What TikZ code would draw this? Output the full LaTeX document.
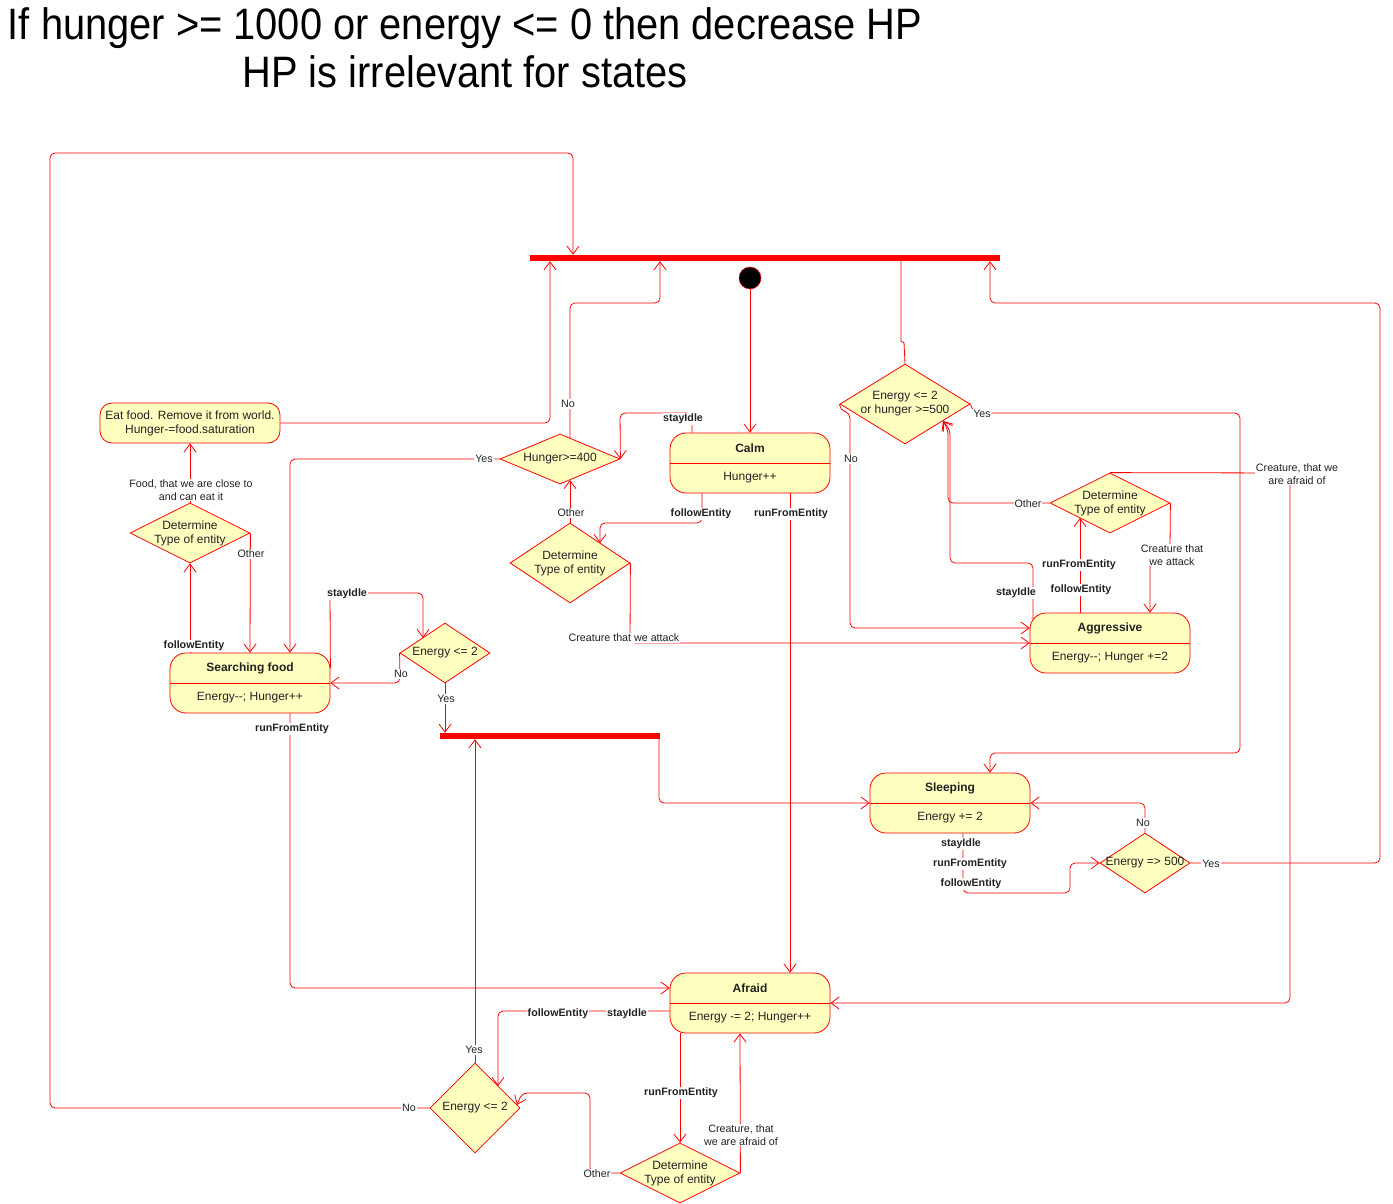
\documentclass[tikz,border=0pt]{standalone}
\usepackage{fontspec}
\setmainfont{Liberation Sans}
\usepackage{graphicx}
\usetikzlibrary{arrows.meta,shapes.geometric}
\definecolor{yel}{HTML}{FFFFC0}
\definecolor{tc}{HTML}{222222}
\newcommand\mystate[5]{%
  \node[statebox] (#1) at (#2,#3) {};
  \draw[red, line width=0.8pt] (#1.west) -- (#1.east);
  \node[sttitle] (#1-t) at (#2,#3-15) {#4};
  \node[sttext] (#1-b) at (#2,#3+15) {#5};
}
\newcommand\mydia[6]{%
  \node[dia, minimum width=#4, minimum height=#5] (#1) at (#2,#3) {};
  \node[sttext] (#1-t) at (#1) {#6};
}
\begin{document}
\begin{tikzpicture}[x=1pt,y=-1pt,
  ln/.style={draw=red, line width=0.8pt, rounded corners=5pt},
  arr/.style={ln, -{Straight Barb[length=8pt,width=12pt]}},
  statebox/.style={draw=red, fill=yel, line width=0.8pt, rounded corners=16pt, minimum width=160pt, minimum height=60pt, inner sep=0pt},
  dia/.style={diamond, draw=red, fill=yel, line width=0.8pt, inner sep=0pt},
  sttitle/.style={font=\bfseries\fontsize{12}{14}\selectfont, text=tc, inner sep=0pt},
  sttext/.style={font=\fontsize{12}{14}\selectfont, text=tc, inner sep=0pt, align=center},
  lbl/.style={font=\fontsize{10.7}{13}\selectfont, text=tc, fill=white, inner sep=0.8pt, align=center},
  blbl/.style={lbl, font=\bfseries\fontsize{10.7}{13}\selectfont},
  barnode/.style={fill=red, inner sep=0pt, minimum height=6pt},
]
\useasboundingbox (0,0) rectangle (1393,1204);
\fill[white] (0,0) rectangle (1393,1204);

% title
\node[anchor=base, inner sep=0pt, text=black] (t1) at (465,40) {\scalebox{0.905}[1]{\fontsize{44}{48}\selectfont If hunger >= 1000 or energy <= 0 then decrease HP}};
\node[anchor=base, inner sep=0pt, text=black] (t2) at (465,88) {\scalebox{0.905}[1]{\fontsize{44}{48}\selectfont HP is irrelevant for states}};

% bars and initial node
\node[barnode, minimum width=470pt] (bar1) at (765,258) {};
\node[barnode, minimum width=220pt] (bar2) at (550,736) {};
\node[circle, fill=black, draw=red, line width=0.5pt, minimum size=22pt, inner sep=0pt] (init) at (750,278) {};

% states
\mystate{calm}{750}{463}{Calm}{Hunger++}
\mystate{search}{250}{683}{Searching food}{Energy-{}-; Hunger++}
\mystate{aggr}{1110}{643}{Aggressive}{Energy-{}-; Hunger +=2}
\mystate{sleep}{950}{803}{Sleeping}{Energy += 2}
\mystate{afraid}{750}{1003}{Afraid}{Energy -= 2; Hunger++}
\node[draw=red, fill=yel, line width=0.8pt, rounded corners=12pt, minimum width=180pt, minimum height=40pt, inner sep=0pt, font=\fontsize{12}{14}\selectfont, text=tc, align=center] (eat) at (190,423) {Eat food. Remove it from world.\\Hunger-=food.saturation};

% decisions
\mydia{dL}{190}{533}{120}{60}{Determine\\Type of entity}
\mydia{dHun}{560}{459}{120}{50}{Hunger>=400}
\mydia{dM}{570}{563}{120}{80}{Determine\\Type of entity}
\mydia{dEH}{905}{404}{130}{80}{Energy <= 2\\or hunger >=500}
\mydia{dR}{1110}{503}{120}{60}{Determine\\Type of entity}
\mydia{dE1}{445}{653}{90}{60}{Energy <= 2}
\mydia{dE5}{1145}{863}{90}{60}{Energy => 500}
\mydia{dE2}{475}{1108}{90}{90}{Energy <= 2}
\mydia{dB}{680}{1173}{120}{60}{Determine\\Type of entity}

% connectors
\draw[arr] (init) -- (calm.north);
\draw[arr] ([xshift=-58pt]calm.north) -- (692,413) -- (620,413) -- (dHun.east);
\draw[arr] ([xshift=-48pt]calm.south) -- (702,523) -- (600,523) -- (600,543);
\draw[arr] ([xshift=40pt]calm.south) -- ([xshift=40pt]afraid.north);
\draw[arr] (570,438) -- (570,303) -- (660,303) -- ([xshift=-105pt]bar1.south);
\draw[arr] (dHun.west) -- (290,459) -- ([xshift=40pt]search.north);
\draw[arr] (dM.north) -- (570,480);
\draw[arr] (dM.east) -- (630,643) -- (aggr.west);
\draw[arr] (eat.east) -- (550,423) -- ([xshift=-215pt]bar1.south);
\draw[arr] (dE2.west) -- (50,1108) -- (50,153) -- (573,153) -- ([xshift=-192pt]bar1.north);
\draw[arr] (dL.north) -- (eat.south);
\draw[arr] (dL.east) -- (search.north);
\draw[arr] ([xshift=-60pt]search.north) -- (dL.south);
\draw[arr] ([yshift=15pt]search.east) -- (330,593) -- (423,593) -- (423,638);
\draw[arr] (dE1.west) -- (400,683) -- (search.east);
\draw[arr] (dE1.south) -- ([xshift=-105pt]bar2.north);
\draw[arr] ([xshift=40pt]search.south) -- (290,988) -- ([yshift=15pt]afraid.west);
\draw[arr] ([xshift=109pt]bar2.south) -- (659,803) -- (sleep.west);
\draw[arr] (dE2.north) -- ([xshift=-75pt]bar2.south);
\draw[arr] ([yshift=-8pt]afraid.west) -- (498,1011) -- (498,1086);
\draw[arr] ([xshift=-70pt]afraid.south) -- (dB.north);
\draw[arr] (dB.east) -- ([xshift=-10pt]afraid.south);
\draw[arr] (dB.west) -- (590,1173) -- (590,1093) -- (522,1093) -- (517,1105);
\draw[arr] (dR.north) -- (1290,473) -- (1290,1003) -- (afraid.east);
\draw[arr] (dR.east) -- (1170,548) -- (1150,562) -- ([xshift=40pt]aggr.north);
\draw[arr] (dR.west) -- (948,503) -- (948,430) -- (943,421);
\draw[arr] ([xshift=-30pt]aggr.north) -- (1080,518);
\draw[arr] (1033,619) -- (1033,563) -- (950,563) -- (950,430) -- (943,421);
\draw[arr] (dEH.west) -- (840,410) -- (850,413) -- (850,628) -- ([yshift=15pt]aggr.west);
\draw[arr] (dEH.east) -- (974,413) -- (1240,413) -- (1240,753) -- (990,753) -- ([xshift=40pt]sleep.north);
\draw[draw=red, line width=0.8pt, rounded corners=1pt] ([xshift=136pt]bar1.south) -- (901,342) -- (904,342) -- (dEH.north);
\draw[arr] ([xshift=13pt]sleep.south) -- (963,893) -- (1070,893) -- (1070,863) -- (dE5.west);
\draw[arr] (dE5.north) -- (1145,803) -- (sleep.east);
\draw[arr] (dE5.east) -- (1380,863) -- (1380,303) -- (990,303) -- ([xshift=225pt]bar1.south);

% labels
\node[blbl] at (683,419) {stayIdle};
\node[blbl] at (701,514) {followEntity};
\node[blbl] at (791,514) {runFromEntity};
\node[lbl] at (568,404) {No};
\node[lbl] at (484,459) {Yes};
\node[lbl] at (571,513) {Other};
\node[lbl, inner ysep=1.5pt] at (624,638) {Creature that we attack};
\node[lbl] at (409,1108) {No};
\node[lbl] at (191,490) {Food, that we are close to\\and can eat it};
\node[lbl] at (251,554) {Other};
\node[blbl] at (194,646) {followEntity};
\node[blbl] at (347,594) {stayIdle};
\node[lbl] at (401,674) {No};
\node[lbl] at (446,699) {Yes};
\node[blbl] at (292,729) {runFromEntity};
\node[lbl] at (474,1050) {Yes};
\node[blbl] at (558,1014) {followEntity};
\node[blbl] at (627,1014) {stayIdle};
\node[blbl] at (681,1093) {runFromEntity};
\node[lbl] at (741,1135) {Creature, that\\we are afraid of};
\node[lbl] at (597,1174) {Other};
\node[lbl] at (1297,474) {Creature, that we\\are afraid of};
\node[lbl] at (1172,555) {Creature that\\we attack};
\node[lbl] at (1028,504) {Other};
\node[blbl] at (1079,565) {runFromEntity};
\node[blbl] at (1081,590) {followEntity};
\node[blbl] at (1016,593) {stayIdle};
\node[lbl] at (851,459) {No};
\node[lbl] at (982,414) {Yes};
\node[blbl] at (961,844) {stayIdle};
\node[blbl] at (970,864) {runFromEntity};
\node[blbl] at (971,884) {followEntity};
\node[lbl] at (1143,823) {No};
\node[lbl] at (1211,864) {Yes};
\end{tikzpicture}
\end{document}
